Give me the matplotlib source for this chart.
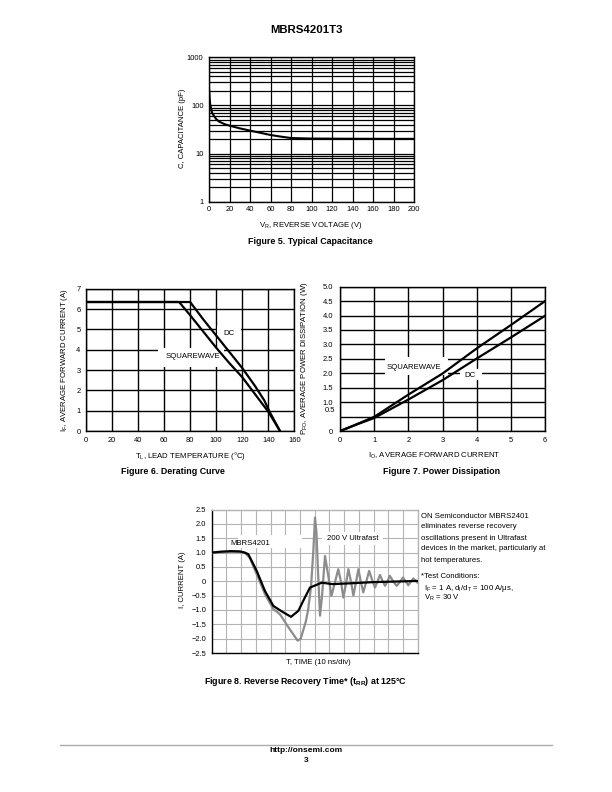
import matplotlib
matplotlib.use("Agg")
import matplotlib.pyplot as plt
from matplotlib.patches import Rectangle
from matplotlib.ticker import FixedLocator, NullFormatter

plt.rcParams['font.family'] = ['Liberation Sans', 'DejaVu Sans']
plt.rcParams['mathtext.fontset'] = 'custom'
plt.rcParams['mathtext.rm'] = 'Liberation Sans'
plt.rcParams['mathtext.default'] = 'regular'

# Figure 5: typical capacitance
cap_volts = [0, 1, 2, 3, 5, 7, 10, 15, 20, 30, 40, 50, 60, 70, 80, 100, 140, 200]
cap_pf = [220, 110, 87, 70, 60, 52, 46, 41, 38, 33.4, 30, 27, 24.3, 22.5, 21, 20.5, 20.3, 20.2]

# Figure 6: derating curve
der_temp_dc = [0, 80, 90, 100, 110, 120, 130, 137, 141, 149]
der_amp_dc = [6.35, 6.35, 5.5, 4.7, 3.9, 3.1, 2.2, 1.5, 0.95, 0.0]
der_temp_sq = [0, 71.5, 80, 90, 100, 110, 120, 130, 140, 149]
der_amp_sq = [6.35, 6.35, 5.7, 4.9, 4.1, 3.35, 2.65, 1.8, 0.95, 0.0]

# Figure 7: power dissipation
pwr_io = [0.05, 0.5, 1, 2, 3, 4, 5, 6]
pwr_sq = [0.02, 0.24, 0.49, 1.26, 1.99, 2.86, 3.67, 4.5]
pwr_dc = [0.02, 0.23, 0.45, 1.09, 1.76, 2.51, 3.24, 3.99]

# Figure 8: reverse recovery (time in divisions of 10 ns)
rr_t_mbrs = [0, 0.6, 1.3, 1.9, 2.25, 2.49, 3.06, 3.62, 4.19, 4.76, 5.39, 5.89, 6.3, 6.68,
             7.48, 8.2, 9.5, 11.0, 12.5, 14.0]
rr_i_mbrs = [1.0, 1.03, 1.05, 1.04, 1.0, 0.94, 0.36, -0.34, -0.86, -1.05, -1.24, -1.03,
             -0.6, -0.22, -0.05, -0.1, -0.07, -0.03, -0.01, 0.01]
rr_t_ultra = [0, 0.6, 1.3, 1.9, 2.3, 2.6, 3.06, 3.62, 4.19, 4.64, 5.21, 5.84, 6.05, 6.4, 6.55,
              6.75, 6.9, 7.02, 7.12, 7.22, 7.36, 7.5, 7.7, 7.92, 8.14, 8.37, 8.6, 8.78, 8.95,
              9.12, 9.29, 9.46, 9.63, 9.8, 9.97, 10.13, 10.3, 10.5, 10.7, 10.9, 11.1, 11.27,
              11.44, 11.6, 11.78, 11.95, 12.1, 12.33, 12.57, 12.8, 13.0, 13.18, 13.36, 13.53,
              13.7, 14.0]
rr_i_ultra = [0.98, 1.0, 1.02, 1.02, 0.97, 0.8, 0.24, -0.45, -0.97, -1.15, -1.6, -2.07, -2.0,
              -1.4, -1.0, -0.2, 1.0, 2.22, 1.7, 0.4, -1.2, -0.5, 0.88, 0.2, -0.51, -0.05, 0.42,
              0.0, -0.57, -0.1, 0.42, 0.0, -0.5, -0.05, 0.42, 0.0, -0.39, -0.02, 0.36, 0.05,
              -0.22, 0.0, 0.22, 0.02, -0.16, 0.0, 0.19, 0.0, -0.16, -0.02, 0.13, 0.0, -0.14,
              -0.02, 0.1, -0.05]

W, H = 612.0, 792.0
TICK_FS = 5.4
LAB_FS = 5.6


def box(x0, y0, x1, y1):
    # convert pixel box on the page into figure fractions
    return [x0 / W, 1 - y1 / H, (x1 - x0) / W, (y1 - y0) / H]


def ftext(x, y, s, **kw):
    kw.setdefault('fontsize', LAB_FS)
    kw.setdefault('ha', 'center')
    kw.setdefault('va', 'center')
    fig.text(x / W, 1 - y / H, s, **kw)


def style(ax, gridcolor='black', lw=0.9):
    ax.set_axisbelow(True)
    ax.grid(True, which='both', color=gridcolor, lw=lw)
    ax.tick_params(which='both', length=0, labelsize=TICK_FS)
    for s in ax.spines.values():
        s.set_linewidth(1.0)


def blank(ax, x0, x1, y0, y1):
    ax.add_patch(Rectangle((x0, y0), x1 - x0, y1 - y0, facecolor='white',
                           edgecolor='none', zorder=2))


fig = plt.figure(figsize=(6.12, 7.92), dpi=100)

ftext(306, 30, 'MBRS4201T3', fontsize=8.2, fontweight='bold')

# ---- Figure 5
ax5 = fig.add_axes(box(209, 57.3, 414.3, 201.7))
ax5.set_yscale('log')
ax5.set_xlim(0, 200)
ax5.set_ylim(1, 1000)
ax5.set_xticks(range(0, 201, 20))
ax5.yaxis.set_major_locator(FixedLocator([1, 10, 100, 1000]))
ax5.set_yticklabels(['1', '10', '100', '1000'])
ax5.yaxis.set_minor_locator(FixedLocator([m * d for d in (1, 10, 100) for m in range(2, 10)]))
ax5.yaxis.set_minor_formatter(NullFormatter())
style(ax5, lw=0.9)
ax5.tick_params(axis='y', pad=4)
ax5.tick_params(axis='x', pad=3)
ax5.plot(cap_volts, cap_pf, color='black', lw=1.5, zorder=3)
ftext(183, 128, 'C, CAPACITANCE (pF)', rotation=90)
ftext(311, 225, 'V$_R$, REVERSE VOLTAGE (V)')
ftext(310, 241, 'Figure 5. Typical Capacitance', fontsize=6.4, fontweight='bold')

# ---- Figure 6
ax6 = fig.add_axes(box(86, 288.8, 294.3, 431))
ax6.set_xlim(0, 160)
ax6.set_ylim(0, 7)
ax6.set_xticks(range(0, 161, 20))
ax6.set_yticks(range(0, 8))
style(ax6, lw=1.0)
ax6.tick_params(axis='y', pad=4)
ax6.tick_params(axis='x', pad=4)
blank(ax6, 55, 106, 3.15, 4.1)
blank(ax6, 101, 119, 4.45, 5.15)
ax6.plot(der_temp_dc, der_amp_dc, color='black', lw=1.6, zorder=3)
ax6.plot(der_temp_sq, der_amp_sq, color='black', lw=1.6, zorder=3)
ax6.text(82, 3.65, 'SQUAREWAVE', fontsize=LAB_FS, ha='center', va='center', zorder=4)
ax6.text(109.5, 4.78, 'DC', fontsize=LAB_FS, ha='center', va='center', zorder=4)
ftext(64, 360, 'I$_F$, AVERAGE FORWARD CURRENT (A)', rotation=90)
ftext(190, 456, 'T$_L$, LEAD TEMPERATURE (°C)')
ftext(173, 472, 'Figure 6. Derating Curve', fontsize=6.4, fontweight='bold')

# ---- Figure 7
ax7 = fig.add_axes(box(340, 286.7, 545, 431))
ax7.set_xlim(0, 6)
ax7.set_ylim(0, 5)
ax7.set_xticks(range(0, 7))
ax7.set_yticks([0, 1.0, 1.5, 2.0, 2.5, 3.0, 3.5, 4.0, 4.5, 5.0])
ax7.set_yticklabels(['0', '1.0', '1.5', '2.0', '2.5', '3.0', '3.5', '4.0', '4.5', '5.0'])
ax7.yaxis.set_minor_locator(FixedLocator([0.5]))
style(ax7, lw=1.0)
ax7.tick_params(axis='y', pad=5)
ax7.tick_params(axis='x', pad=4)
ax7.text(-0.15, 0.7, '0.5', fontsize=TICK_FS, ha='right', va='center')
blank(ax7, 1.32, 3.17, 1.95, 2.55)
blank(ax7, 3.5, 4.15, 1.75, 2.15)
ax7.plot(pwr_io, pwr_sq, color='black', lw=1.6, zorder=3)
ax7.plot(pwr_io, pwr_dc, color='black', lw=1.6, zorder=3)
ax7.text(2.15, 2.2, 'SQUAREWAVE', fontsize=LAB_FS, ha='center', va='center', zorder=4)
ax7.text(3.8, 1.93, 'DC', fontsize=LAB_FS, ha='center', va='center', zorder=4)
ftext(305, 358, 'P$_{FO}$, AVERAGE POWER DISSIPATION (W)', rotation=90)
ftext(434, 456, 'I$_O$, AVERAGE FORWARD CURRENT')
ftext(442, 472, 'Figure 7. Power Dissipation', fontsize=6.4, fontweight='bold')

# ---- Figure 8
ax8 = fig.add_axes(box(211.7, 509.5, 417.7, 653))
ax8.set_xlim(0, 14)
ax8.set_ylim(-2.5, 2.5)
ax8.set_xticks(range(0, 15))
ax8.set_xticklabels([])
yt = [2.5, 2.0, 1.5, 1.0, 0.5, 0, -0.5, -1.0, -1.5, -2.0, -2.5]
ax8.set_yticks(yt)
ax8.set_yticklabels(['0' if v == 0 else f'{v:.1f}'.replace('-', '\u2212') for v in yt])
style(ax8, gridcolor='#b4b4b4', lw=0.8)
ax8.tick_params(axis='y', pad=4)
ax8.spines['top'].set_color('#b4b4b4')
ax8.spines['right'].set_color('#b4b4b4')
blank(ax8, 1.8, 6.15, 1.15, 1.62)
blank(ax8, 7.5, 11.65, 1.25, 1.72)
ax8.plot(rr_t_ultra, rr_i_ultra, color='#8c8c8c', lw=1.6, zorder=3)
ax8.plot(rr_t_mbrs, rr_i_mbrs, color='black', lw=1.6, zorder=4)
ax8.text(2.6, 1.3, 'MBRS4201', fontsize=LAB_FS, ha='center', va='center', zorder=5)
ax8.text(9.6, 1.48, '200 V Ultrafast', fontsize=LAB_FS, ha='center', va='center', zorder=5)
ftext(183, 580, 'I, CURRENT (A)', rotation=90)
ftext(318, 663, 'T, TIME (10 ns/div)')
ftext(306, 682, 'Figure 8. Reverse Recovery Time* (t$_{RR}$) at 125°C',
      fontsize=6.4, fontweight='bold')

side = ['ON Semiconductor MBRS2401', 'eliminates reverse recovery',
        'oscillations present in Ultrafast', 'devices in the market, particularly at',
        'hot temperatures.']
for k, line in enumerate(side):
    ftext(421, 516 + 11 * k, line, ha='left')
ftext(421, 577, '*Test Conditions:', ha='left')
ftext(424, 588, 'I$_F$ = 1 A, d$_I$/d$_T$ = 100 A/μs,', ha='left')
ftext(424, 598, 'V$_R$ = 30 V', ha='left')

# footer
fig.add_artist(plt.Line2D([60 / W, 552 / W], [1 - 745 / H, 1 - 745 / H],
                          color='#aaaaaa', lw=1.0))
ftext(306, 751, 'http://onsemi.com', fontsize=6.0, fontweight='bold')
ftext(306, 761, '3', fontsize=6.0, fontweight='bold')

fig.savefig('out.png', dpi=100)
